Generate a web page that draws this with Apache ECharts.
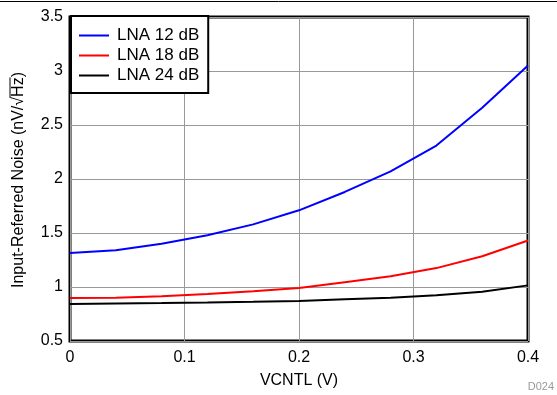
<!DOCTYPE html>
<html>
<head>
<meta charset="utf-8">
<script src="https://cdn.jsdelivr.net/npm/echarts@6/dist/echarts.min.js"></script>
<style>
  html, body { margin: 0; padding: 0; background: #fff; }
  #chart { width: 557px; height: 395px; }
</style>
</head>
<body>
<div id="chart"></div>
<script>
// values
const vcntl = [0, 0.04, 0.08, 0.12, 0.16, 0.2, 0.24, 0.28, 0.32, 0.36, 0.4];
const lna12 = [1.315, 1.34, 1.40, 1.48, 1.58, 1.71, 1.88, 2.07, 2.31, 2.66, 3.05];
const lna18 = [0.898, 0.90, 0.915, 0.935, 0.96, 0.99, 1.045, 1.10, 1.175, 1.285, 1.43];
const lna24 = [0.843, 0.848, 0.852, 0.857, 0.863, 0.87, 0.886, 0.90, 0.923, 0.957, 1.015];
const seriesNames = ['LNA 12 dB', 'LNA 18 dB', 'LNA 24 dB'];
const seriesColors = ['#0000ff', '#ff0000', '#000000'];

const font = '"Liberation Sans", Arial, sans-serif';
const chart = echarts.init(document.getElementById('chart'));

// y title with the sqrt overline over "Hz"
const yTitle = 'Input-Referred Noise (nV/\u221AHz)';
const ctx = document.createElement('canvas').getContext('2d');
ctx.font = '16px ' + font;
const wAll = ctx.measureText(yTitle).width;
const wPre = ctx.measureText('Input-Referred Noise (nV/\u221A').width;
const wHz = ctx.measureText('Hz').width;

function pairs(ys) {
  return vcntl.map((x, i) => [x, ys[i]]);
}

const lines = [lna12, lna18, lna24].map((ys, i) => ({
  name: seriesNames[i],
  type: 'line',
  data: pairs(ys),
  showSymbol: false,
  smooth: false,
  lineStyle: { color: seriesColors[i], width: 2 },
  itemStyle: { color: seriesColors[i] }
}));

const option = {
  animation: false,
  textStyle: { fontFamily: font },
  grid: {
    left: 70,
    right: 29,
    top: 17,
    bottom: 54,
    show: true,
    borderColor: '#000',
    borderWidth: 3,
    backgroundColor: 'transparent'
  },
  legend: {
    data: seriesNames,
    orient: 'vertical',
    left: 71,
    top: 16,
    padding: [11, 9, 9, 8],
    itemGap: 3,
    itemWidth: 30,
    itemHeight: 2,
    icon: 'rect',
    backgroundColor: '#fff',
    borderColor: '#000',
    borderWidth: 2,
    textStyle: {
      fontSize: 17,
      color: '#000',
      fontFamily: font,
      lineHeight: 17,
      padding: [0, 0, 0, 3]
    }
  },
  xAxis: {
    type: 'value',
    min: 0,
    max: 0.4,
    interval: 0.1,
    name: 'VCNTL (V)',
    nameLocation: 'middle',
    nameGap: 32,
    nameTextStyle: { fontSize: 16, color: '#000', fontFamily: font },
    axisLine: { show: false },
    axisTick: { show: false },
    axisLabel: { fontSize: 16, color: '#000', margin: 9, fontFamily: font },
    splitLine: { lineStyle: { color: '#999', width: 1 } }
  },
  yAxis: {
    type: 'value',
    min: 0.5,
    max: 3.5,
    interval: 0.5,
    axisLine: { show: false },
    axisTick: { show: false },
    axisLabel: { fontSize: 16, color: '#000', margin: 7, fontFamily: font },
    splitLine: { lineStyle: { color: '#999', width: 1 } }
  },
  graphic: [
    {
      type: 'line',
      shape: { x1: 0, y1: 1.5, x2: 557, y2: 1.5 },
      style: { stroke: '#000', lineWidth: 1 }
    },
    {
      type: 'group',
      x: 19,
      y: 180,
      rotation: Math.PI / 2,
      children: [
        {
          type: 'text',
          style: {
            text: yTitle,
            font: '16px ' + font,
            fill: '#000',
            align: 'center',
            verticalAlign: 'middle'
          }
        },
        {
          type: 'line',
          shape: {
            x1: -wAll / 2 + wPre - 1,
            y1: -9,
            x2: -wAll / 2 + wPre + wHz,
            y2: -9
          },
          style: { stroke: '#000', lineWidth: 1 }
        }
      ]
    },
    {
      type: 'text',
      right: 3,
      top: 381,
      style: { text: 'D024', font: '11px ' + font, fill: '#999' }
    }
  ],
  series: lines
};

chart.setOption(option);
</script>
</body>
</html>
